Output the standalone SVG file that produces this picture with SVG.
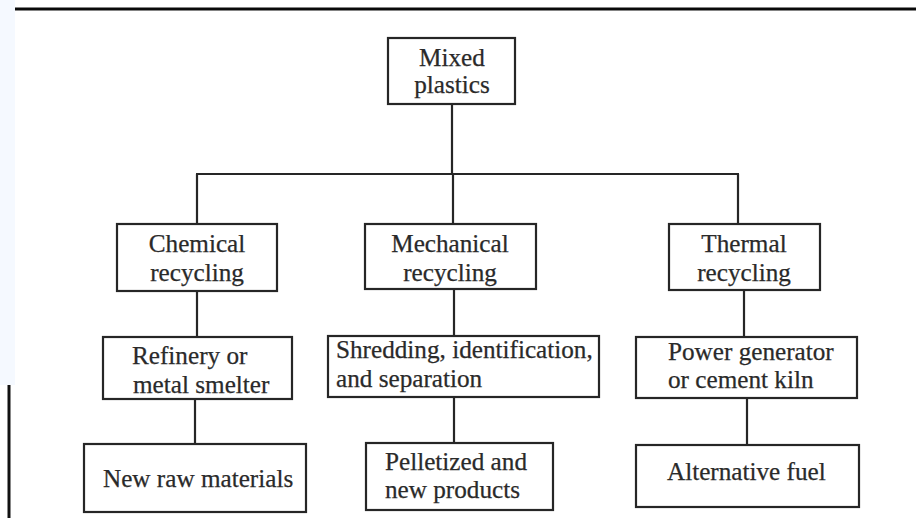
<svg xmlns="http://www.w3.org/2000/svg" width="916" height="518" viewBox="0 0 916 518">
  <style>
    .box { fill: #ffffff; stroke: #262626; stroke-width: 2.2; }
    .link { fill: none; stroke: #262626; stroke-width: 2.2; }
    .lbl { font-family: "Liberation Serif", "Times New Roman", serif; font-size: 25.2px; fill: #2a2a2a; stroke: #2a2a2a; stroke-width: 0.25; }
    .mid { text-anchor: middle; }
  </style>

  <!-- page background and margins -->
  <rect x="0" y="0" width="916" height="518" fill="#ffffff"/>
  <rect x="0" y="0" width="15" height="385" fill="#f5f9ff"/>
  <line x1="15" y1="9" x2="916" y2="9" stroke="#0a0a0a" stroke-width="3"/>
  <line x1="9" y1="385" x2="9" y2="518" stroke="#111111" stroke-width="3"/>

  <!-- connectors -->
  <g id="connectors">
    <path class="link" d="M452 104 V174"/>
    <path class="link" d="M196 174 H739"/>
    <path class="link" d="M197 174 V224"/>
    <path class="link" d="M453 174 V224"/>
    <path class="link" d="M738 174 V224"/>
    <path class="link" d="M197 291 V337"/>
    <path class="link" d="M454 289 V336"/>
    <path class="link" d="M744 290 V337"/>
    <path class="link" d="M195 399 V444"/>
    <path class="link" d="M454 397 V443"/>
    <path class="link" d="M747 398 V445"/>
  </g>

  <g id="mixed-plastics">
    <rect class="box" x="388" y="38" width="127" height="66"/>
    <text class="lbl mid" x="452" y="66">Mixed</text>
    <text class="lbl mid" x="452" y="93">plastics</text>
  </g>

  <g id="chemical-recycling">
    <rect class="box" x="117" y="224" width="160" height="67"/>
    <text class="lbl mid" x="197" y="252">Chemical</text>
    <text class="lbl mid" x="197" y="281">recycling</text>
  </g>

  <g id="mechanical-recycling">
    <rect class="box" x="365" y="224" width="171" height="65"/>
    <text class="lbl mid" x="450" y="252">Mechanical</text>
    <text class="lbl mid" x="450" y="281">recycling</text>
  </g>

  <g id="thermal-recycling">
    <rect class="box" x="669" y="224" width="151" height="66"/>
    <text class="lbl mid" x="744" y="252">Thermal</text>
    <text class="lbl mid" x="744" y="281">recycling</text>
  </g>

  <g id="refinery">
    <rect class="box" x="103" y="337" width="189" height="62"/>
    <text class="lbl" x="132" y="364">Refinery or</text>
    <text class="lbl" x="133" y="393">metal smelter</text>
  </g>

  <g id="shredding">
    <rect class="box" x="328" y="336" width="271" height="61"/>
    <text class="lbl" x="336" y="358">Shredding, identification,</text>
    <text class="lbl" x="336" y="387">and separation</text>
  </g>

  <g id="power-generator">
    <rect class="box" x="636" y="337" width="221" height="61"/>
    <text class="lbl" x="668" y="360">Power generator</text>
    <text class="lbl" x="668" y="388">or cement kiln</text>
  </g>

  <g id="new-raw-materials">
    <rect class="box" x="84" y="444" width="222" height="68"/>
    <text class="lbl" x="103" y="487">New raw materials</text>
  </g>

  <g id="pelletized">
    <rect class="box" x="366" y="443" width="187" height="67"/>
    <text class="lbl" x="385" y="470">Pelletized and</text>
    <text class="lbl" x="385" y="498">new products</text>
  </g>

  <g id="alternative-fuel">
    <rect class="box" x="636" y="445" width="223" height="62"/>
    <text class="lbl" x="667" y="480">Alternative fuel</text>
  </g>
</svg>
